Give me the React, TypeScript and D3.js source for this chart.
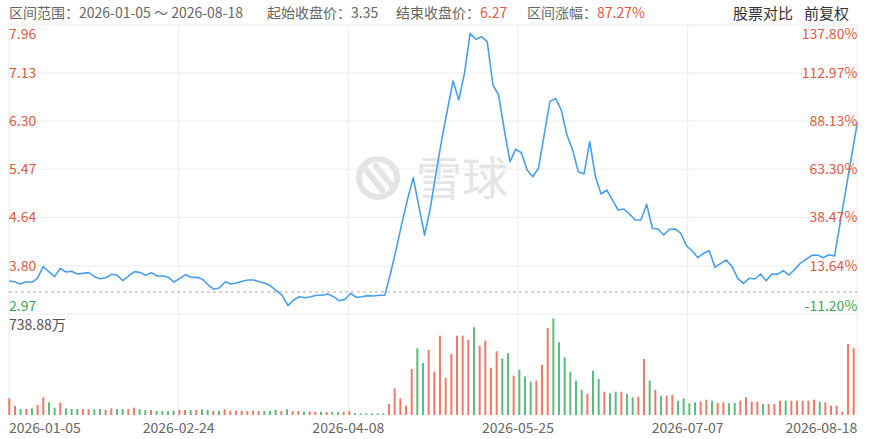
import * as d3 from 'd3';

// Closing prices, one per trading day (2026-01-05 .. 2026-08-18)
const closePrices = [
  3.540, 3.528, 3.488, 3.528, 3.517, 3.586, 3.787, 3.701, 3.615, 3.759,
  3.695, 3.707, 3.661, 3.672, 3.684, 3.615, 3.580, 3.597, 3.655, 3.638,
  3.545, 3.626, 3.701, 3.689, 3.638, 3.684, 3.626, 3.626, 3.603, 3.522,
  3.586, 3.649, 3.603, 3.603, 3.569, 3.471, 3.396, 3.425, 3.528, 3.488,
  3.505, 3.534, 3.557, 3.557, 3.528, 3.500, 3.453, 3.367, 3.292, 3.114,
  3.212, 3.269, 3.252, 3.269, 3.293, 3.293, 3.315, 3.269, 3.200, 3.223,
  3.327, 3.258, 3.269, 3.287, 3.281, 3.293, 3.293, 3.664, 4.085, 4.531,
  4.952, 5.324, 4.823, 4.334, 4.795, 5.399, 5.974, 6.492, 6.993, 6.665,
  7.126, 7.816, 7.713, 7.758, 7.672, 6.924, 6.751, 6.147, 5.600, 5.814,
  5.755, 5.456, 5.341, 5.486, 6.061, 6.636, 6.694, 6.492, 6.061, 5.802,
  5.427, 5.387, 5.945, 5.341, 5.042, 5.111, 4.938, 4.766, 4.783, 4.697,
  4.593, 4.593, 4.864, 4.450, 4.438, 4.334, 4.432, 4.438, 4.363, 4.149,
  4.058, 3.942, 4.018, 4.063, 3.776, 3.845, 3.902, 3.787, 3.586, 3.500,
  3.586, 3.574, 3.661, 3.545, 3.661, 3.655, 3.718, 3.643, 3.741, 3.845,
  3.914, 3.983, 3.989, 3.942, 3.994, 3.971, 4.546, 5.121, 5.695, 6.270,
];

// Volume in 万 shares
const volumes = [
  127.6, 68.8, 45.8, 45.8, 51.2, 76.4, 135.2, 97.0, 55.8, 94.0,
  51.2, 45.8, 45.8, 43.6, 43.6, 43.6, 45.8, 38.2, 51.2, 45.8,
  43.6, 45.8, 55.8, 43.6, 38.2, 38.2, 30.6, 30.6, 30.6, 32.9,
  38.2, 38.2, 38.2, 38.2, 43.6, 38.2, 30.6, 32.9, 43.6, 32.9,
  32.9, 32.9, 30.6, 32.9, 30.6, 30.6, 30.6, 38.2, 30.6, 43.6,
  30.6, 30.6, 25.0, 27.0, 24.0, 26.0, 23.0, 25.0, 22.0, 24.0,
  32.9, 13.0, 12.0, 13.0, 12.0, 13.0, 12.0, 84.1, 204.0, 127.6,
  71.1, 351.5, 509.7, 397.3, 496.7, 330.9, 605.9, 285.0, 466.1, 605.9,
  605.9, 575.4, 670.1, 529.5, 567.7, 361.4, 486.7, 433.2, 471.5, 300.3,
  346.1, 294.2, 254.4, 262.1, 382.1, 664.8, 738.88, 555.5, 440.9, 330.9,
  262.1, 193.3, 160.5, 338.5, 275.1, 178.0, 165.8, 178.0, 178.0, 160.5,
  135.2, 139.8, 427.9, 262.1, 193.3, 147.5, 147.5, 155.1, 109.3, 127.6,
  89.4, 97.0, 104.7, 116.9, 109.3, 91.7, 97.0, 89.4, 91.7, 109.3,
  135.2, 101.6, 101.6, 84.1, 84.1, 84.1, 109.3, 109.3, 109.3, 109.3,
  109.3, 109.3, 116.9, 101.6, 97.0, 71.1, 71.1, 25.2, 542.5, 509.7,
];

// R = red (up) bar, G = green (down) bar
const volumeDirection = (
  'RRGRGRRGGR' + 'GGGRRGGRRG' + 'GRRGGRGGGG' + 'RRGRGGRGRR' + 'RRRRRGGGRG' +
  'RRGRRGRGGR' + 'RGGGGGGRRR' + 'RRGGRRRRRR' + 'RRGRRRRGGR' + 'GGGRRRGGGG' +
  'GGRGGRGGRG' + 'GRRGRGRRGG' + 'GGRRGRRGGR' + 'RRRGRRRGRR' + 'RRRGRRRRRR'
).split('');

const priceTicks = ['7.96', '7.13', '6.30', '5.47', '4.64', '3.80', '2.97'];
const pctTicks = ['137.80%', '112.97%', '88.13%', '63.30%', '38.47%', '13.64%', '-11.20%'];
const dateTicks = ['2026-01-05', '2026-02-24', '2026-04-08', '2026-05-25', '2026-07-07', '2026-08-18'];

const startClose = 3.35;
const volumeMaxLabel = '738.88万';

const RED = '#dd5a43';
const GREEN = '#3ca55c';
const BAR_RED = '#ef7a69';
const BAR_GREEN = '#5dbb7e';
const GRID = '#ebebeb';
const FONT = '"Noto Sans CJK SC", "Noto Sans", sans-serif';

export default function App() {
  const W = 870, H = 439;
  const left = 9, right = 857.3;
  const priceTop = 25, priceBottom = 314;
  const volBottom = 415, volTop = 318.3;
  const n = closePrices.length;

  const x = d3.scaleLinear().domain([0, n - 1]).range([left, right]);
  const xBar = d3.scaleLinear().domain([0, n - 1]).range([9.3, 853.7]);
  const y = d3.scaleLinear().domain([+priceTicks[6], +priceTicks[0]]).range([priceBottom, priceTop]);
  const yVol = d3.scaleLinear().domain([0, d3.max(volumes)!]).range([volBottom, volTop]);

  const line = d3.line<number>().x((_, i) => x(i)).y(d => y(d));

  const tickCount = dateTicks.length - 1;

  return (
    <svg width={W} height={H} style={{ position: 'absolute', left: 0, top: 0, background: '#fff' }} fontFamily={FONT}>
      {/* header */}
      <g fontSize={14} fill="#666">
        <text x={9} y={18}>区间范围：2026-01-05 ～ 2026-08-18</text>
        <text x={267} y={18}>起始收盘价：<tspan fill="#666">{startClose.toFixed(2)}</tspan></text>
        <text x={396} y={18}>结束收盘价：<tspan fill={RED}>{closePrices[n - 1].toFixed(2)}</tspan></text>
        <text x={527} y={18}>区间涨幅：<tspan fill={RED}>87.27%</tspan></text>
      </g>
      <g fontSize={15} fill="#333">
        <text x={733} y={19}>股票对比</text>
        <text x={804} y={19}>前复权</text>
      </g>

      {/* watermark */}
      <g>
        <circle cx={378} cy={178} r={19} fill="none" stroke="#e4e4e4" strokeWidth={6} />
        <path d="M366 170 L382 190 M376 166 L392 186" stroke="#e4e4e4" strokeWidth={6} fill="none" strokeLinecap="round" />
        <text x={416} y={195} fontSize={46} fill="#e4e4e4">雪球</text>
      </g>

      {/* horizontal grid */}
      {priceTicks.map((t, i) => (
        <line key={'h' + i} x1={left} x2={right} y1={y(+t)} y2={y(+t)} stroke={GRID} />
      ))}
      {/* vertical grid */}
      {dateTicks.map((_, i) => {
        const gx = x(((n - 1) * i) / tickCount);
        return <line key={'v' + i} x1={gx} x2={gx} y1={priceTop} y2={417} stroke={GRID} />;
      })}

      {/* base price */}
      <line x1={left} x2={right} y1={y(startClose)} y2={y(startClose)} stroke="#aaa" strokeDasharray="3,3" />

      {/* volume bars */}
      {volumes.map((v, i) => (
        <rect key={'b' + i} x={xBar(i) - 1} width={2} y={yVol(v)} height={volBottom - yVol(v)}
          fill={volumeDirection[i] === 'R' ? BAR_RED : BAR_GREEN} />
      ))}

      {/* price line */}
      <path d={line(closePrices)!} fill="none" stroke="#4a9fe8" strokeWidth={1.6} strokeLinejoin="round" />

      {/* axis labels */}
      <g fontSize={14}>
        {priceTicks.map((t, i) => {
          const gy = y(+t);
          const ty = i === 0 ? gy + 13.5 : i === priceTicks.length - 1 ? gy - 3 : gy + 5;
          return (
            <text key={'p' + i} x={left} y={ty} fill={i === priceTicks.length - 1 ? GREEN : RED}>{t}</text>
          );
        })}
        {pctTicks.map((t, i) => {
          const gy = y(+priceTicks[i]);
          const ty = i === 0 ? gy + 13.5 : i === pctTicks.length - 1 ? gy - 3 : gy + 5;
          return (
            <text key={'r' + i} x={right} y={ty} textAnchor="end" fill={i === pctTicks.length - 1 ? GREEN : RED}>{t}</text>
          );
        })}
      </g>

      <text x={left} y={329.5} fontSize={14} fill="#555">{volumeMaxLabel}</text>

      {/* date labels */}
      <g fontSize={14} fill="#666">
        {dateTicks.map((d, i) => {
          const gx = x(((n - 1) * i) / tickCount);
          const anchor = i === 0 ? 'start' : i === tickCount ? 'end' : 'middle';
          return <text key={'d' + i} x={gx} y={433} textAnchor={anchor}>{d}</text>;
        })}
      </g>
    </svg>
  );
}
